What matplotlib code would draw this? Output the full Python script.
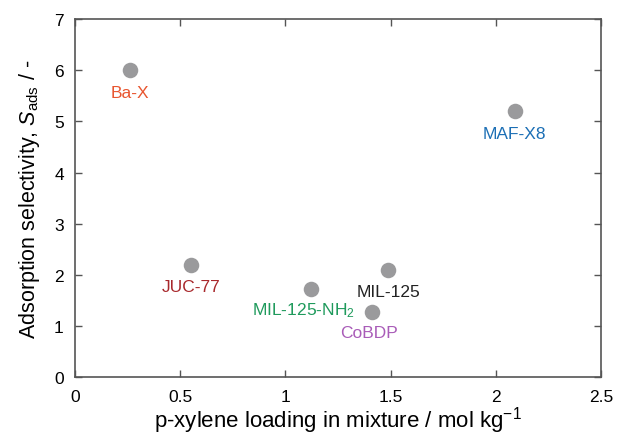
import matplotlib
matplotlib.use("Agg")
import matplotlib.pyplot as plt

plt.rcParams['font.family'] = ['Liberation Sans', 'DejaVu Sans']
plt.rcParams['mathtext.fontset'] = 'custom'
plt.rcParams['mathtext.rm'] = 'Liberation Sans'
plt.rcParams['mathtext.it'] = 'Liberation Sans:italic'

# p-xylene loading (mol/kg) and adsorption selectivity per material
materials = ["Ba-X", "JUC-77", "MIL-125-NH$_2$", "MIL-125", "CoBDP", "MAF-X8"]
loading = [0.26, 0.55, 1.12, 1.49, 1.41, 2.09]
selectivity = [6.0, 2.2, 1.72, 2.1, 1.28, 5.2]
label_colors = ["#e8552f", "#a8282c", "#1f9a5c", "#222222", "#a95cb8", "#1c6fb5"]
# label offsets in points (dx, dy) relative to each marker
offsets = [(0, -16), (0, -16), (-5, -15), (0, -16), (-2, -15), (0, -16)]

fig, ax = plt.subplots(figsize=(6.19, 4.39), dpi=100)
fig.subplots_adjust(left=0.121, right=0.971, top=0.954, bottom=0.139)

ax.scatter(loading, selectivity, s=125, color="#9a9a9c", zorder=3, linewidths=0)
for name, x, y, c, off in zip(materials, loading, selectivity, label_colors, offsets):
    ax.annotate(name, (x, y), xytext=off, textcoords="offset points",
                ha="center", va="center", color=c, fontsize=12.5)

ax.set_xlim(0, 2.5)
ax.set_ylim(0, 7)
ax.set_xticks([0, 0.5, 1, 1.5, 2, 2.5])
ax.set_xticklabels(["0", "0.5", "1", "1.5", "2", "2.5"])
ax.set_yticks(range(8))
ax.tick_params(direction="in", top=True, right=True, labelsize=12.5, length=5,
               color="#555555", width=1)
ax.tick_params(axis="x", pad=9)
ax.tick_params(axis="y", pad=8)
for sp in ax.spines.values():
    sp.set_color("#555555")
    sp.set_linewidth(1.2)

ax.set_xlabel("p-xylene loading in mixture / mol kg$^{-1}$", fontsize=16, labelpad=0)
ax.set_ylabel("Adsorption selectivity, $S_{\\mathrm{ads}}$ / -", fontsize=15.5, labelpad=9)

fig.savefig("out.png", dpi=100)
